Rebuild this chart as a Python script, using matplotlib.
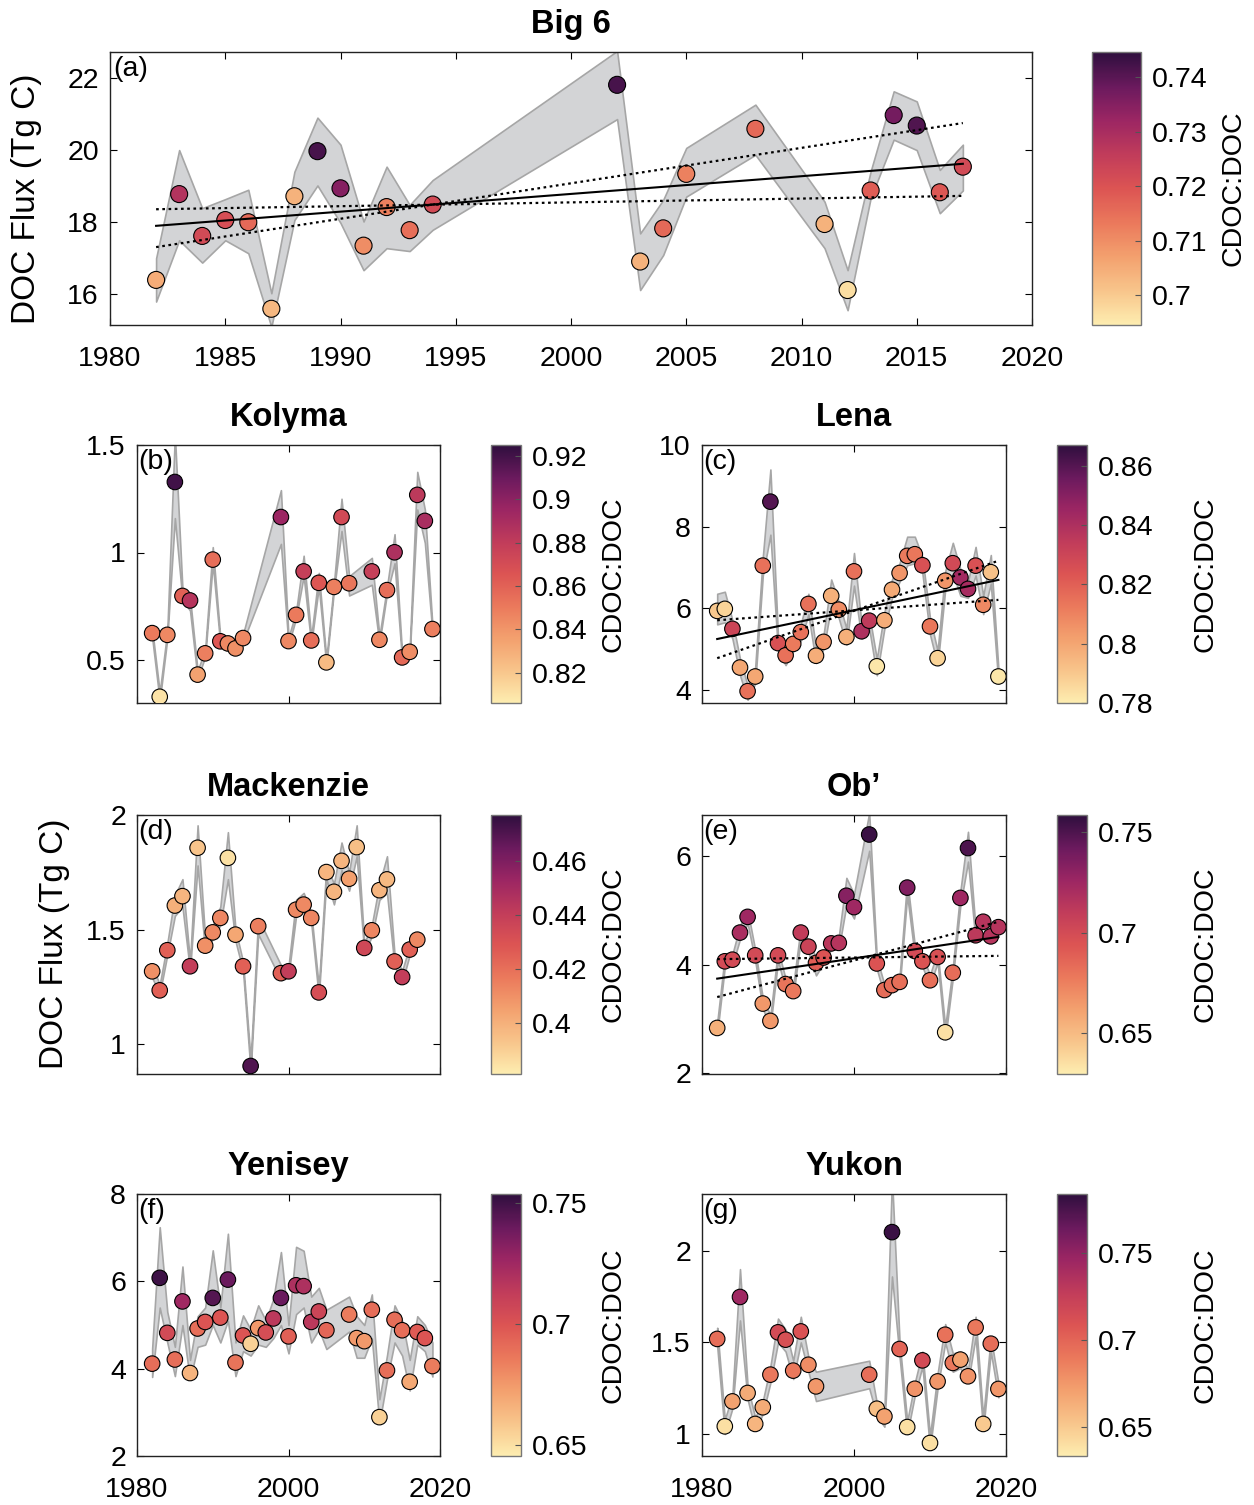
import numpy as np
import matplotlib
matplotlib.use("Agg")
import matplotlib.pyplot as plt
from matplotlib.colors import LinearSegmentedColormap, Normalize
from matplotlib.cm import ScalarMappable
from matplotlib.ticker import FuncFormatter

plt.rcParams['font.family'] = ['Liberation Sans', 'DejaVu Sans']

# ---------------- DATA ----------------
# (a) Big 6
years_a = [1982, 1983, 1984, 1985, 1986, 1987, 1988, 1989, 1990, 1991, 1992, 1993, 1994,
           2002, 2003, 2004, 2005, 2008, 2011, 2012, 2013, 2014, 2015, 2016, 2017]
flux_a = [16.40, 18.78, 17.62, 18.06, 18.00, 15.60, 18.72, 19.97, 18.94, 17.35, 18.42, 17.78, 18.49,
          21.81, 16.91, 17.83, 19.34, 20.59, 17.95, 16.12, 18.88, 20.97, 20.68, 18.83, 19.54]
lo_a = [15.80, 17.50, 16.88, 17.50, 17.14, 15.10, 18.06, 19.02, 17.98, 16.67, 17.28, 17.20, 17.79,
        20.86, 16.12, 17.09, 18.71, 19.87, 17.28, 15.56, 18.67, 20.29, 20.00, 18.25, 18.88]
hi_a = [17.00, 20.00, 18.39, 18.64, 18.90, 16.03, 19.40, 20.90, 20.15, 18.02, 19.54, 18.48, 19.17,
        22.75, 17.69, 18.62, 20.06, 21.26, 18.57, 16.67, 19.41, 21.63, 21.35, 19.45, 20.15]
ratio_a = [0.705, 0.728, 0.722, 0.721, 0.716, 0.703, 0.704, 0.742, 0.735, 0.710, 0.712, 0.715, 0.722,
           0.742, 0.704, 0.716, 0.712, 0.716, 0.704, 0.697, 0.718, 0.737, 0.741, 0.719, 0.722]
trend_years_a = [1982, 2017]
trend_a = [17.90, 19.62]
ci1_a = [17.31, 20.75]
ci2_a = [18.36, 18.73]

# (b) Kolyma
years_b = [1982, 1983, 1984, 1985, 1986, 1987, 1988, 1989, 1990, 1991, 1992, 1993, 1994,
           1999, 2000, 2001, 2002, 2003, 2004, 2005, 2006, 2007, 2008,
           2011, 2012, 2013, 2014, 2015, 2016, 2017, 2018, 2019]
flux_b = [0.625, 0.329, 0.617, 1.328, 0.798, 0.777, 0.432, 0.531, 0.967, 0.587, 0.577, 0.554, 0.602,
          1.165, 0.588, 0.710, 0.912, 0.591, 0.859, 0.489, 0.840, 1.165, 0.857,
          0.912, 0.594, 0.825, 1.001, 0.512, 0.538, 1.268, 1.147, 0.644]
lo_b = [0.605, 0.310, 0.600, 1.160, 0.780, 0.730, 0.415, 0.515, 0.950, 0.570, 0.560, 0.540, 0.585,
        1.040, 0.570, 0.695, 0.890, 0.575, 0.840, 0.475, 0.825, 1.100, 0.800,
        0.850, 0.578, 0.810, 0.950, 0.497, 0.522, 1.200, 1.045, 0.628]
hi_b = [0.645, 0.350, 0.635, 1.550, 0.830, 0.790, 0.450, 0.548, 1.025, 0.605, 0.595, 0.570, 0.620,
        1.290, 0.605, 0.725, 0.985, 0.607, 0.905, 0.505, 0.856, 1.250, 0.890,
        0.975, 0.610, 0.840, 1.085, 0.528, 0.555, 1.375, 1.200, 0.660]
ratio_b = [0.850, 0.810, 0.845, 0.920, 0.860, 0.885, 0.835, 0.848, 0.855, 0.865, 0.845, 0.842, 0.845,
           0.895, 0.845, 0.850, 0.878, 0.855, 0.865, 0.825, 0.848, 0.872, 0.852,
           0.878, 0.845, 0.855, 0.888, 0.857, 0.843, 0.882, 0.890, 0.848]

# (c) Lena
years_c = list(range(1982, 2020))
flux_c = [5.93, 5.98, 5.49, 4.54, 3.96, 4.32, 7.04, 8.61, 5.14, 4.84, 5.12, 5.41, 6.10, 4.83, 5.17,
          6.30, 5.96, 5.29, 6.90, 5.43, 5.69, 4.57, 5.70, 6.45, 6.86, 7.28, 7.32, 7.05, 5.55, 4.77,
          6.67, 7.10, 6.75, 6.47, 7.04, 6.08, 6.88, 4.32]
lo_c = [5.60, 5.65, 5.25, 4.35, 3.75, 4.15, 6.80, 7.80, 4.95, 4.60, 4.95, 5.20, 5.85, 4.65, 5.00,
        6.05, 5.75, 5.10, 6.55, 5.25, 5.50, 4.35, 5.50, 6.25, 6.65, 7.05, 7.10, 6.85, 5.35, 4.60,
        6.45, 6.85, 6.30, 6.25, 6.80, 5.85, 6.60, 4.15]
hi_c = [6.35, 6.40, 5.70, 4.75, 4.10, 4.55, 7.25, 9.40, 5.30, 5.00, 5.30, 5.60, 6.35, 5.00, 5.35,
        6.70, 6.15, 5.50, 7.35, 5.60, 5.85, 4.75, 5.90, 6.70, 7.10, 7.75, 7.75, 7.25, 5.75, 4.95,
        6.90, 7.60, 6.95, 6.65, 7.50, 6.30, 7.30, 4.50]
ratio_c = [0.790, 0.787, 0.830, 0.800, 0.815, 0.800, 0.815, 0.860, 0.825, 0.815, 0.812, 0.815, 0.815,
           0.798, 0.805, 0.797, 0.807, 0.797, 0.815, 0.840, 0.835, 0.782, 0.798, 0.799, 0.805, 0.812,
           0.813, 0.825, 0.813, 0.787, 0.805, 0.828, 0.843, 0.842, 0.825, 0.808, 0.792, 0.782]
trend_years_c = [1982, 2019]
trend_c = [5.24, 6.69]
ci1_c = [4.77, 7.16]
ci2_c = [5.70, 6.20]

# (d) Mackenzie
years_d = [1982, 1983, 1984, 1985, 1986, 1987, 1988, 1989, 1990, 1991, 1992, 1993, 1994, 1995, 1996,
           1999, 2000, 2001, 2002, 2003, 2004, 2005, 2006, 2007, 2008, 2009, 2010, 2011, 2012, 2013,
           2014, 2015, 2016, 2017]
flux_d = [1.318, 1.235, 1.410, 1.605, 1.646, 1.340, 1.857, 1.430, 1.488, 1.551, 1.813, 1.478, 1.340,
          0.905, 1.515, 1.310, 1.318, 1.587, 1.609, 1.551, 1.226, 1.751, 1.665, 1.800, 1.722, 1.860,
          1.420, 1.497, 1.672, 1.719, 1.361, 1.293, 1.413, 1.456]
lo_d = [1.290, 1.220, 1.390, 1.560, 1.600, 1.320, 1.780, 1.400, 1.460, 1.520, 1.720, 1.450, 1.320,
        0.880, 1.480, 1.280, 1.300, 1.560, 1.580, 1.530, 1.205, 1.720, 1.610, 1.760, 1.670, 1.820,
        1.400, 1.470, 1.630, 1.660, 1.340, 1.270, 1.390, 1.430]
hi_d = [1.345, 1.260, 1.440, 1.650, 1.720, 1.360, 1.955, 1.460, 1.520, 1.600, 1.925, 1.500, 1.360,
        0.930, 1.550, 1.345, 1.340, 1.630, 1.660, 1.575, 1.250, 1.780, 1.700, 1.880, 1.750, 1.955,
        1.440, 1.520, 1.700, 1.820, 1.390, 1.320, 1.430, 1.490]
ratio_d = [0.410, 0.425, 0.425, 0.400, 0.398, 0.440, 0.393, 0.410, 0.412, 0.413, 0.385, 0.403, 0.425,
           0.470, 0.415, 0.425, 0.440, 0.412, 0.412, 0.413, 0.432, 0.398, 0.398, 0.398, 0.405, 0.395,
           0.435, 0.413, 0.398, 0.397, 0.425, 0.440, 0.425, 0.412]

# (e) Ob'
years_e = [1982, 1983, 1984, 1985, 1986, 1987, 1988, 1989, 1990, 1991, 1992, 1993, 1994, 1995, 1996,
           1997, 1998, 1999, 2000, 2002, 2003, 2004, 2005, 2006, 2007, 2008, 2009, 2010, 2011, 2012,
           2013, 2014, 2015, 2016, 2017, 2018, 2019]
flux_e = [2.83, 4.06, 4.09, 4.59, 4.88, 4.17, 3.28, 2.96, 4.17, 3.64, 3.51, 4.59, 4.33, 4.03, 4.13,
          4.39, 4.40, 5.27, 5.06, 6.40, 4.02, 3.53, 3.62, 3.68, 5.42, 4.25, 4.06, 3.71, 4.14, 2.75,
          3.85, 5.23, 6.15, 4.54, 4.79, 4.52, 4.69]
lo_e = [2.72, 3.96, 3.99, 4.47, 4.76, 4.07, 3.18, 2.86, 4.07, 3.54, 3.41, 4.47, 4.22, 3.80, 4.03,
        4.28, 4.29, 5.10, 4.85, 6.10, 3.92, 3.43, 3.52, 3.58, 5.28, 4.15, 3.96, 3.61, 4.04, 2.62,
        3.75, 5.10, 5.90, 4.43, 4.68, 4.42, 4.59]
hi_e = [2.93, 4.16, 4.19, 4.72, 5.00, 4.27, 3.38, 3.06, 4.27, 3.74, 3.61, 4.70, 4.44, 4.13, 4.23,
        4.50, 4.52, 5.60, 5.30, 6.80, 4.12, 3.63, 3.72, 3.78, 5.56, 4.35, 4.16, 3.81, 4.24, 2.85,
        3.95, 5.36, 6.45, 4.65, 4.90, 4.62, 4.79]
ratio_e = [0.655, 0.700, 0.700, 0.720, 0.725, 0.700, 0.665, 0.665, 0.700, 0.680, 0.678, 0.710, 0.705,
           0.690, 0.695, 0.713, 0.715, 0.733, 0.725, 0.755, 0.695, 0.683, 0.683, 0.682, 0.735, 0.700,
           0.695, 0.682, 0.697, 0.635, 0.683, 0.725, 0.750, 0.712, 0.715, 0.715, 0.715]
trend_years_e = [1982, 2019]
trend_e = [3.74, 4.51]
ci1_e = [3.40, 4.79]
ci2_e = [4.10, 4.16]

# (f) Yenisey
years_f = [1982, 1983, 1984, 1985, 1986, 1987, 1988, 1989, 1990, 1991, 1992, 1993, 1994, 1995, 1996,
           1997, 1998, 1999, 2000, 2001, 2002, 2003, 2004, 2005,
           2008, 2009, 2010, 2011, 2012, 2013, 2014, 2015, 2016, 2017, 2018, 2019]
flux_f = [4.115, 6.08, 4.82, 4.21, 5.54, 3.90, 4.92, 5.07, 5.62, 5.17, 6.04, 4.14, 4.76, 4.57, 4.93,
          4.83, 5.15, 5.62, 4.74, 5.91, 5.89, 5.07, 5.31, 4.88,
          5.24, 4.70, 4.63, 5.35, 2.89, 3.96, 5.12, 4.88, 3.70, 4.84, 4.70, 4.06]
lo_f = [3.81, 5.40, 4.60, 3.83, 5.00, 3.75, 4.50, 4.55, 5.00, 4.60, 5.10, 3.83, 4.40, 4.30, 4.55,
        4.50, 4.70, 5.00, 4.35, 5.25, 5.40, 4.60, 4.90, 4.45,
        4.85, 4.25, 4.25, 4.70, 2.75, 3.75, 4.60, 4.30, 3.50, 4.55, 4.40, 3.82]
hi_f = [4.46, 7.24, 5.30, 4.50, 6.34, 4.20, 5.20, 5.40, 6.71, 5.40, 7.09, 4.60, 5.22, 4.90, 5.45,
        5.10, 5.60, 6.67, 5.00, 6.79, 6.70, 5.65, 5.85, 5.35,
        5.65, 5.20, 5.00, 5.70, 3.30, 4.30, 5.45, 5.10, 4.20, 5.20, 5.00, 4.60]
ratio_f = [0.690, 0.750, 0.705, 0.690, 0.725, 0.665, 0.690, 0.700, 0.745, 0.700, 0.740, 0.688, 0.700,
           0.655, 0.675, 0.703, 0.715, 0.740, 0.695, 0.720, 0.720, 0.715, 0.708, 0.693,
           0.685, 0.675, 0.675, 0.690, 0.655, 0.690, 0.690, 0.690, 0.670, 0.697, 0.700, 0.685]

# (g) Yukon
years_g = [1982, 1983, 1984, 1985, 1986, 1987, 1988, 1989, 1990, 1991, 1992, 1993, 1994, 1995,
           2002, 2003, 2004, 2005, 2006, 2007, 2008, 2009, 2010, 2011, 2012, 2013, 2014, 2015, 2016,
           2017, 2018, 2019]
flux_g = [1.519, 1.042, 1.178, 1.748, 1.224, 1.055, 1.146, 1.324, 1.555, 1.515, 1.346, 1.560, 1.378,
          1.260, 1.324, 1.138, 1.096, 2.102, 1.464, 1.038, 1.247, 1.402, 0.951, 1.287, 1.542, 1.388,
          1.406, 1.315, 1.582, 1.055, 1.493, 1.246]
lo_g = [1.48, 1.00, 1.14, 1.62, 1.19, 1.02, 1.11, 1.28, 1.50, 1.45, 1.30, 1.50, 1.34, 1.18,
        1.25, 1.10, 1.04, 1.86, 1.42, 1.00, 1.21, 1.37, 0.92, 1.25, 1.50, 1.34, 1.36, 1.28, 1.53,
        1.02, 1.45, 1.20]
hi_g = [1.58, 1.08, 1.21, 1.90, 1.26, 1.09, 1.18, 1.37, 1.63, 1.57, 1.40, 1.64, 1.42, 1.34,
        1.40, 1.17, 1.13, 2.40, 1.50, 1.07, 1.28, 1.45, 0.99, 1.33, 1.60, 1.44, 1.45, 1.35, 1.64,
        1.09, 1.53, 1.28]
ratio_g = [0.695, 0.640, 0.670, 0.745, 0.665, 0.660, 0.665, 0.690, 0.715, 0.712, 0.690, 0.710, 0.680,
           0.675, 0.695, 0.655, 0.670, 0.780, 0.700, 0.640, 0.677, 0.715, 0.640, 0.675, 0.693, 0.690,
           0.670, 0.677, 0.690, 0.650, 0.695, 0.675]

titles = ['Big 6', 'Kolyma', 'Lena', 'Mackenzie', 'Ob\u2019', 'Yenisey', 'Yukon']
panel_labels = ['(a)', '(b)', '(c)', '(d)', '(e)', '(f)', '(g)']
ylims = [(15.15, 22.72), (0.30, 1.50), (3.67, 10.0), (0.87, 2.0), (1.98, 6.76), (2.0, 8.0), (0.88, 2.31)]
yticks = [[16, 18, 20, 22], [0.5, 1, 1.5], [4, 6, 8, 10], [1, 1.5, 2], [2, 4, 6], [2, 4, 6, 8], [1, 1.5, 2]]
clims = [(0.6945, 0.7446), (0.806, 0.925), (0.780, 0.867), (0.381, 0.477), (0.6296, 0.7585),
         (0.6455, 0.7537), (0.633, 0.784)]
cticks = [[0.7, 0.71, 0.72, 0.73, 0.74], [0.82, 0.84, 0.86, 0.88, 0.9, 0.92], [0.78, 0.8, 0.82, 0.84, 0.86],
          [0.4, 0.42, 0.44, 0.46], [0.65, 0.7, 0.75], [0.65, 0.7, 0.75], [0.65, 0.7, 0.75]]

# ---------------- STYLE / LAYOUT ----------------
W, H = 1254, 1505
fig = plt.figure(figsize=(W / 100, H / 100), dpi=100)

matter = LinearSegmentedColormap.from_list('matter', [
    (0.00, '#fdedb0'), (0.12, '#f8c68c'), (0.25, '#f3a06e'), (0.37, '#eb7a5c'),
    (0.50, '#dc5453'), (0.62, '#c23d5a'), (0.75, '#9c2663'), (0.87, '#6c1a5e'),
    (1.00, '#2f0f3e')])

def px_axes(x0, y0, x1, y1):
    return fig.add_axes([x0 / W, 1 - y1 / H, (x1 - x0) / W, (y1 - y0) / H])

ax_boxes = [(110, 52, 1032, 325), (137, 445, 440, 703), (702, 445, 1006, 703),
            (137, 815, 440, 1074), (702, 815, 1006, 1074), (137, 1194, 440, 1456),
            (702, 1194, 1006, 1456)]
cb_boxes = [(1092, 52, 1141, 325), (491, 445, 521, 703), (1057, 445, 1087, 703),
            (491, 815, 521, 1074), (1057, 815, 1087, 1074), (491, 1194, 521, 1456),
            (1057, 1194, 1087, 1456)]
cb_label_x = [1233, 613, 1205, 613, 1205, 613, 1205]

series = [
    (years_a, flux_a, lo_a, hi_a, ratio_a, (trend_years_a, trend_a, ci1_a, ci2_a)),
    (years_b, flux_b, lo_b, hi_b, ratio_b, None),
    (years_c, flux_c, lo_c, hi_c, ratio_c, (trend_years_c, trend_c, ci1_c, ci2_c)),
    (years_d, flux_d, lo_d, hi_d, ratio_d, None),
    (years_e, flux_e, lo_e, hi_e, ratio_e, (trend_years_e, trend_e, ci1_e, ci2_e)),
    (years_f, flux_f, lo_f, hi_f, ratio_f, None),
    (years_g, flux_g, lo_g, hi_g, ratio_g, None),
]

fmt = FuncFormatter(lambda v, p: f'{v:g}')
TICK_FS = 20.5

for i, (yrs, flux, lo, hi, rat, trend) in enumerate(series):
    ax = px_axes(*ax_boxes[i])
    norm = Normalize(*clims[i])
    ax.fill_between(yrs, lo, hi, facecolor='#d3d4d6', edgecolor='#a6a6a6', linewidth=1.2, zorder=1)
    ax.scatter(yrs, flux, c=rat, cmap=matter, norm=norm, s=150 if i == 0 else 125,
               edgecolors='black', linewidths=0.8, zorder=3)
    if trend is not None:
        ty, tr, c1, c2 = trend
        ax.plot(ty, tr, color='black', lw=1.5, zorder=4)
        ax.plot(ty, c1, color='black', lw=1.6, ls=(0, (1.2, 1.6)), zorder=4)
        ax.plot(ty, c2, color='black', lw=1.6, ls=(0, (1.2, 1.6)), zorder=4)
    ax.set_xlim(1980, 2020)
    ax.set_ylim(*ylims[i])
    ax.set_yticks(yticks[i])
    ax.yaxis.set_major_formatter(fmt)
    if i == 0:
        ax.set_xticks(range(1980, 2021, 5))
    else:
        ax.set_xticks([1980, 2000, 2020])
    if i not in (0, 5, 6):
        ax.set_xticklabels([])
    ax.tick_params(direction='in', length=5, width=0.8, top=True, right=True,
                   labelsize=TICK_FS, pad=8)
    ax.tick_params(axis='x', pad=15)
    for s in ax.spines.values():
        s.set_linewidth(1.0)
        s.set_color('#222222')
    ax.set_title(titles[i], fontsize=23.5, fontweight='bold', pad=14)
    ax.text(0.004, 0.985, panel_labels[i], transform=ax.transAxes, ha='left', va='top',
            fontsize=TICK_FS, zorder=6)

    # colorbar
    cax = px_axes(*cb_boxes[i])
    cb = fig.colorbar(ScalarMappable(norm=norm, cmap=matter), cax=cax)
    cb.set_ticks(cticks[i])
    cb.ax.yaxis.set_major_formatter(fmt)
    cb.outline.set_edgecolor('#777777')
    cb.outline.set_linewidth(1.0)
    cax.tick_params(direction='in', length=4, width=0.8, color='#555555',
                    labelsize=TICK_FS, pad=8)
    cax.minorticks_off()
    cy0, cy1 = cb_boxes[i][1], cb_boxes[i][3]
    fig.text(cb_label_x[i] / W, 1 - (cy0 + cy1) / 2 / H, 'CDOC:DOC', rotation=90,
             ha='center', va='center', fontsize=TICK_FS)

# y labels
fig.text(27 / W, 1 - 199 / H, 'DOC Flux (Tg C)', rotation=90, ha='center', va='center', fontsize=24)
fig.text(55 / W, 1 - 944 / H, 'DOC Flux (Tg C)', rotation=90, ha='center', va='center', fontsize=24)

fig.savefig('out.png', dpi=100)
